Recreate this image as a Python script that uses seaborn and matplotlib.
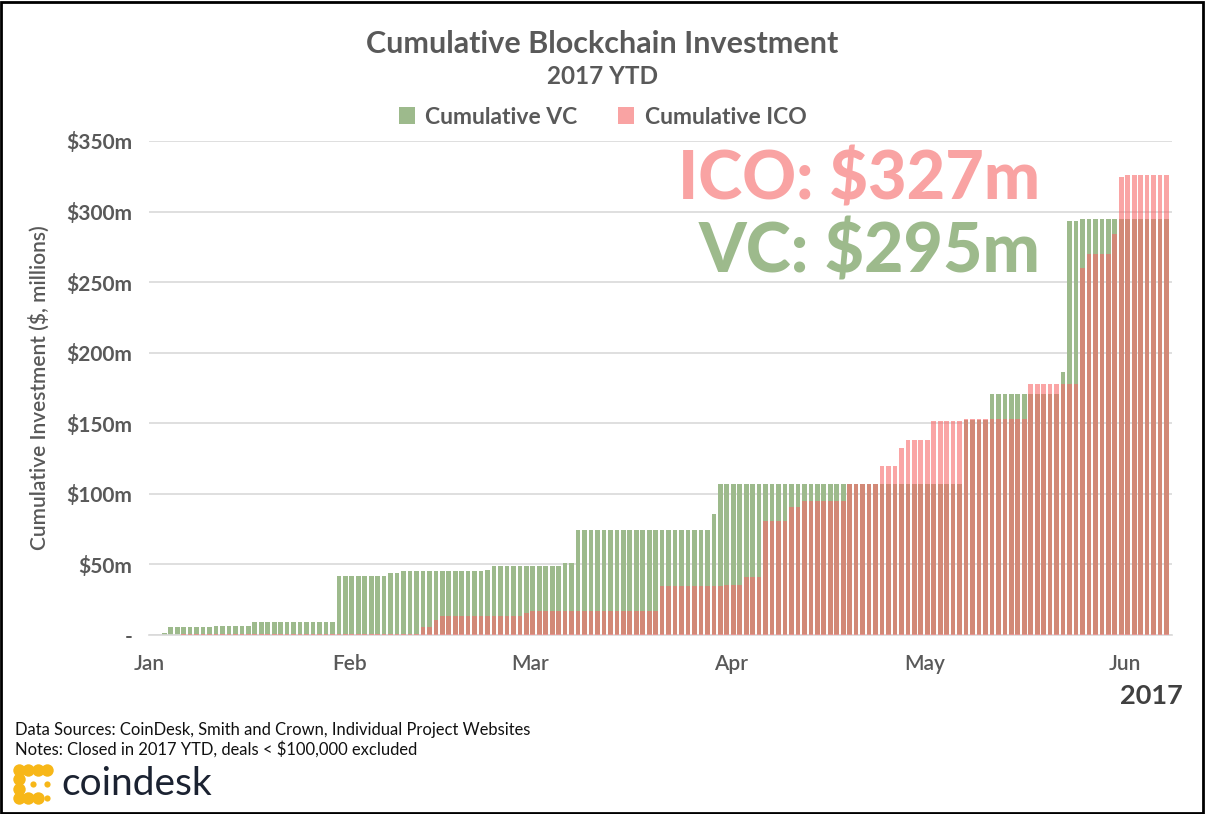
import numpy as np
import pandas as pd
import matplotlib
matplotlib.use("Agg")
import matplotlib.pyplot as plt
from matplotlib.patches import Patch, Rectangle
import seaborn as sns

# ---------------- data (values in $ millions) ----------------
dates = pd.date_range("2017-01-01", "2017-06-07", freq="D")

# cumulative VC: step levels and number of days each level holds
vc_levels = [0, 1.2, 5.5, 6.6, 9.4, 42, 43.8, 45, 46.3, 49, 51, 74.6, 85.6, 107,
             152, 171, 186, 293, 294.5]
vc_days = [2, 1, 7, 6, 13, 8, 2, 13, 1, 11, 2, 21, 1, 38, 4, 11, 1, 2, 14]

# cumulative ICO
ico_levels = [0, 0.8, 6, 10.8, 13.7, 15.5, 16.7, 35, 35.5, 41, 80.5, 90.6, 95, 107,
              120, 132.4, 138.5, 151.5, 153, 177.5, 260, 270, 284, 324.6, 326]
ico_days = [5, 37, 2, 1, 13, 1, 20, 10, 3, 3, 4, 2, 7, 5, 3, 1, 4, 5, 10, 8, 1, 4, 1, 1, 7]

month_labels = ["Jan", "Feb", "Mar", "Apr", "May", "Jun"]
ytick_values = [0, 50, 100, 150, 200, 250, 300, 350]
ytick_labels = ["-", "$50m", "$100m", "$150m", "$200m", "$250m", "$300m", "$350m"]

vc = np.repeat(vc_levels, vc_days)
ico = np.repeat(ico_levels, ico_days)
df = pd.DataFrame({"date": dates.strftime("%Y-%m-%d"), "vc": vc, "ico": ico})

# ---------------- style ----------------
sns.set_theme(style="white")
plt.rcParams["font.family"] = ["Lato", "DejaVu Sans"]

GREEN = "#9DBA8C"
PINK_BAR = "#F76969"
PINK_TXT = "#F9A3A3"
GRAY = "#595959"

W, H = 1205, 814
fig = plt.figure(figsize=(W / 100, H / 100), dpi=100)
fig.patch.set_facecolor("white")

ax = fig.add_axes([149 / W, 1 - 635 / H, (1172 - 149) / W, (635 - 141) / H])

BW = 0.72
sns.barplot(data=df, x="date", y="vc", color=GREEN, saturation=1, width=BW,
            linewidth=0, errorbar=None, ax=ax, zorder=2)
sns.barplot(data=df, x="date", y="ico", color=PINK_BAR, saturation=1, width=BW,
            alpha=0.6, linewidth=0, errorbar=None, ax=ax, zorder=3)

ax.set_xlim(-BW / 2, len(df) - 0.15)
ax.set_ylim(0, 350)

# month ticks at the first day of each month (left edge of that day's bar)
month_idx = [i for i, d in enumerate(dates) if d.day == 1]
ax.set_xticks([i - BW / 2 for i in month_idx])
ax.set_xticklabels(month_labels, fontsize=15, color=GRAY, fontweight="semibold")
ax.tick_params(axis="x", length=5, width=1, color="#BFBFBF", pad=9, direction="out")

ax.set_yticks(ytick_values)
ax.set_yticklabels(ytick_labels, fontsize=15, color=GRAY, fontweight="bold")
ax.tick_params(axis="y", length=0, pad=12)

ax.grid(axis="y", color="#D9D9D9", linewidth=1.2, zorder=0)
ax.set_axisbelow(True)
for s in ["top", "right", "left"]:
    ax.spines[s].set_visible(False)
ax.spines["bottom"].set_color("#D9D9D9")
ax.spines["bottom"].set_linewidth(1.2)

ax.set_xlabel("")
ax.set_ylabel("Cumulative Investment ($, millions)", fontsize=15, color=GRAY,
              fontweight="semibold", labelpad=12)

# ---------------- titles & legend ----------------
fig.text(0.5, 1 - 44 / H, "Cumulative Blockchain Investment", ha="center", va="center",
         fontsize=22, fontweight="bold", color=GRAY)
fig.text(0.5, 1 - 76 / H, "2017 YTD", ha="center", va="center",
         fontsize=17.5, fontweight="bold", color=GRAY)

handles = [Patch(facecolor=GREEN, edgecolor="none", label="Cumulative VC"),
           Patch(facecolor=PINK_TXT, edgecolor="none", label="Cumulative ICO")]
leg = fig.legend(handles=handles, loc="center", bbox_to_anchor=(0.5, 1 - 117 / H),
                 ncol=2, frameon=False, handlelength=0.7, handleheight=0.7,
                 handletextpad=0.45, columnspacing=1.8,
                 prop={"size": 16.5, "weight": "bold"})
for t in leg.get_texts():
    t.set_color(GRAY)

# ---------------- big annotations ----------------
fig.text(1040 / W, 1 - 200 / H, "ICO: $327m", ha="right", va="baseline",
         fontsize=48, fontweight="black", color=PINK_TXT)
fig.text(1040 / W, 1 - 272 / H, "VC: $295m", ha="right", va="baseline",
         fontsize=49, fontweight="black", color=GREEN)

fig.text(1183 / W, 1 - 696 / H, "2017", ha="right", va="center",
         fontsize=19.5, fontweight="bold", color="#404040")

# ---------------- footer ----------------
fig.text(15 / W, 1 - 730 / H, "Data Sources: CoinDesk, Smith and Crown, Individual Project Websites",
         ha="left", va="center", fontsize=11.9, color="#111111")
fig.text(15 / W, 1 - 749 / H, "Notes: Closed in 2017 YTD, deals < $100,000 excluded",
         ha="left", va="center", fontsize=11.9, color="#111111")
fig.text(61 / W, 1 - 795 / H, "coindesk", ha="left", va="baseline",
         fontsize=28, color="#1B2231")

# coindesk icon (yellow dots)
YEL = "#F7B718"
iax = fig.add_axes([13 / W, 1 - 804 / H, 40 / W, 40 / H])
iax.set_xlim(-0.6, 3.6)
iax.set_ylim(-0.6, 3.6)
iax.axis("off")
big = [(0, 3), (1, 3), (2, 3), (3, 3), (0, 2), (0, 1), (0, 0), (1, 0), (2, 0)]
small = [(1.5, 1.5), (3, 1.5), (3, 0)]
iax.scatter([p[0] for p in big], [p[1] for p in big], s=80, color=YEL, linewidths=0)
iax.plot([0, 3], [3, 3], color=YEL, lw=4.5, solid_capstyle="round")
iax.plot([0, 0], [0, 3], color=YEL, lw=4.5, solid_capstyle="round")
iax.plot([0, 2], [0, 0], color=YEL, lw=4.5, solid_capstyle="round")
iax.scatter([p[0] for p in small], [p[1] for p in small], s=20, color=YEL, linewidths=0)

# outer border
fig.patches.append(Rectangle((0.001, 0.001), 0.997, 0.997, transform=fig.transFigure,
                             fill=False, edgecolor="black", linewidth=2))

fig.savefig("out.png", dpi=100, facecolor="white")
